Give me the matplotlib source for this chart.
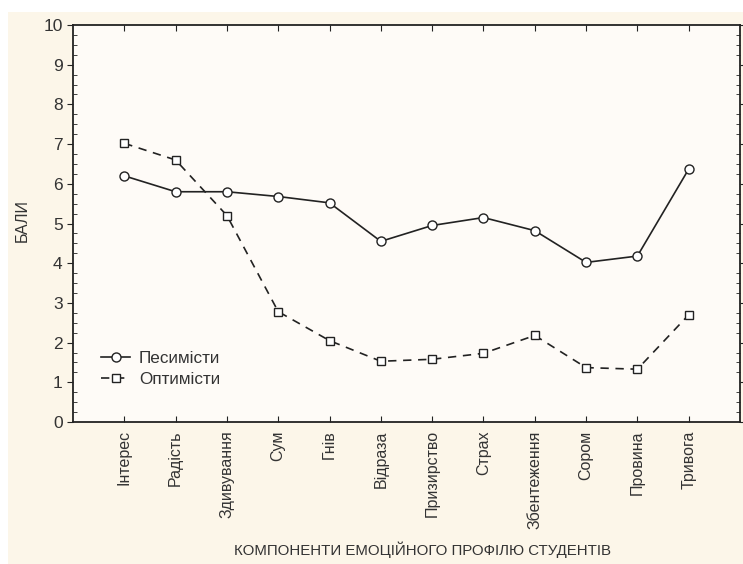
import matplotlib
matplotlib.use("Agg")
import matplotlib.pyplot as plt
from matplotlib.patches import Rectangle
from matplotlib.ticker import MultipleLocator

categories = ["Інтерес", "Радість", "Здивування", "Сум", "Гнів", "Відраза",
              "Призирство", "Страх", "Збентеження", "Сором", "Провина", "Тривога"]
pessimists = [6.2, 5.8, 5.8, 5.68, 5.52, 4.55, 4.95, 5.15, 4.82, 4.02, 4.18, 6.37]
optimists = [7.02, 6.6, 5.2, 2.78, 2.05, 1.53, 1.58, 1.73, 2.18, 1.37, 1.33, 2.7]
series_names = ["Песимісти", "Оптимісти"]
y_label = "БАЛИ"
x_label = "КОМПОНЕНТИ ЕМОЦІЙНОГО ПРОФІЛЮ СТУДЕНТІВ"

plt.rcParams['font.family'] = ['Liberation Sans', 'DejaVu Sans']
txt = "#333333"

fig = plt.figure(figsize=(7.43, 5.64), dpi=100, facecolor="white")
fig.patches.append(Rectangle((8/743, 0), 1, (564-12)/564, transform=fig.transFigure,
                             facecolor="#fcf6e9", edgecolor="none", zorder=-10))
ax = fig.add_axes([73/743, 1-422/564, (740-73)/743, (422-25)/564])
ax.set_facecolor("#fefbf7")

x = list(range(1, len(categories)+1))
ax.plot(x, pessimists, color="#222222", lw=1.2, marker="o", ms=6.5,
        mfc="white", mec="#222222", mew=1.0, label=series_names[0])
ax.plot(x, optimists, color="#222222", lw=1.2, ls=(0, (5, 4)), marker="s", ms=6,
        mfc="white", mec="#222222", mew=1.0, label=series_names[1])

ax.set_xlim(0, len(categories)+1)
ax.set_ylim(0, 10)
ax.set_xticks(x)
ax.set_xticklabels(categories, rotation=90, fontsize=11.5, color=txt)
ax.yaxis.set_major_locator(MultipleLocator(1))
ax.yaxis.set_minor_locator(MultipleLocator(0.25))
ax.tick_params(axis='y', which='major', direction='out', length=4, labelsize=12.5,
               labelcolor=txt, right=True, color="#222222")
ax.tick_params(axis='y', which='minor', direction='in', length=3, right=True, color="#222222")
ax.tick_params(axis='x', which='major', direction='in', length=4, top=True,
               color="#222222", pad=6)
for s in ax.spines.values():
    s.set_color("#222222")
    s.set_linewidth(1.3)

fig.text(22/743, 1-221/564, y_label, rotation=90, ha="center", va="center",
         fontsize=11.5, color=txt)
fig.text(422/743, 1-550/564, x_label, ha="center", va="center",
         fontsize=10.8, color=txt)

leg = ax.legend(loc="upper left", bbox_to_anchor=(0.032, 0.195), frameon=False,
                fontsize=12.3, handlelength=1.7, handletextpad=0.5, labelspacing=0.35,
                borderaxespad=0)
for t in leg.get_texts():
    t.set_color(txt)

fig.savefig("out.png", dpi=100, facecolor=fig.get_facecolor())
